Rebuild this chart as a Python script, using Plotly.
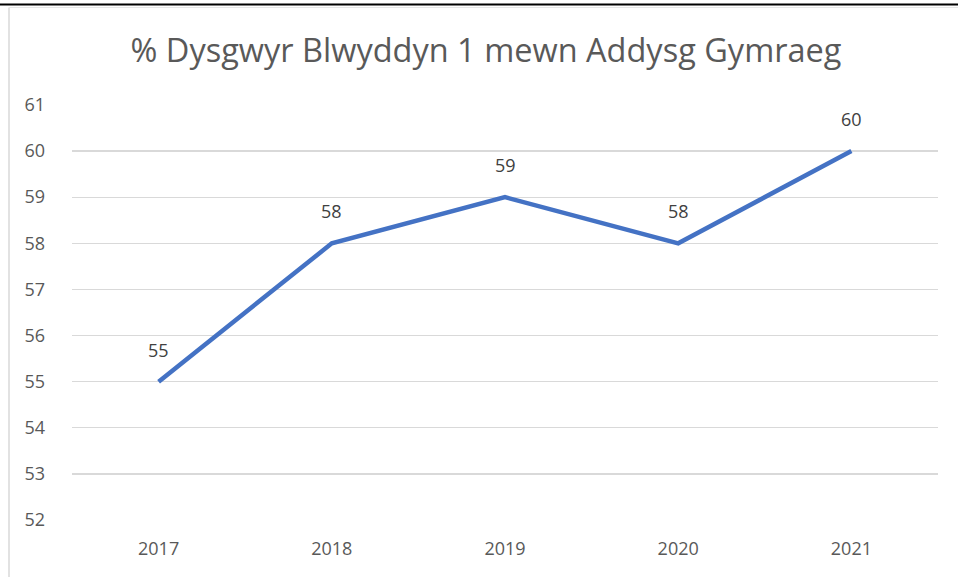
import plotly.graph_objects as go

years = ["2017", "2018", "2019", "2020", "2021"]
values = [55, 58, 59, 58, 60]
y_ticks = [52, 53, 54, 55, 56, 57, 58, 59, 60, 61]
title_text = "% Dysgwyr Blwyddyn 1 mewn Addysg Gymraeg"

W, H = 958, 577
L, R, T, B = 72, 20, 105, 57
PAD = 0.02
FONT = "Open Sans, Liberation Sans, Arial"

x_idx = list(range(len(years)))

fig = go.Figure()
fig.add_trace(go.Scatter(
    x=x_idx, y=values,
    mode="lines",
    line=dict(color="#4472C4", width=4.5),
    hoverinfo="skip",
))

annotations = [
    dict(x=xi, y=v, xref="x", yref="y", text=str(v), showarrow=False,
         yanchor="middle", xanchor="center", yshift=32,
         font=dict(family=FONT, size=18, color="#404040"))
    for xi, v in zip(x_idx, values)
]

def px_to_paper_x(px):
    return (px - L) / (W - L - R)

def px_to_paper_y(py):
    return (H - B - py) / (H - T - B)

shapes = [
    dict(type="line", xref="paper", yref="paper",
         x0=px_to_paper_x(0), x1=px_to_paper_x(958), y0=px_to_paper_y(6), y1=px_to_paper_y(6),
         line=dict(color="#000000", width=2)),
    dict(type="line", xref="paper", yref="paper",
         x0=px_to_paper_x(9), x1=px_to_paper_x(9), y0=px_to_paper_y(9), y1=px_to_paper_y(577),
         line=dict(color="#D9D9D9", width=1.5)),
    dict(type="line", xref="paper", yref="paper",
         x0=px_to_paper_x(9), x1=px_to_paper_x(958), y0=px_to_paper_y(9), y1=px_to_paper_y(9),
         line=dict(color="#E6E6E6", width=1)),
]

span = y_ticks[-1] - y_ticks[0]
ppu = (H - T - B) / span
extra = PAD * ppu

fig.update_layout(
    width=W, height=H,
    margin=dict(l=L, r=R, t=T - extra, b=B - extra, autoexpand=False),
    paper_bgcolor="white", plot_bgcolor="white",
    showlegend=False,
    title=dict(text=title_text, x=486 / W, xanchor="center", y=1 - 51 / H, yanchor="middle",
               font=dict(family=FONT, size=32.5, color="#595959")),
    xaxis=dict(
        range=[-0.5, len(years) - 0.5],
        tickmode="array", tickvals=x_idx, ticktext=years,
        showgrid=False, zeroline=False, showline=False, ticks="",
        ticklabelstandoff=15,
        tickfont=dict(family=FONT, size=18, color="#595959"),
        fixedrange=True,
    ),
    yaxis=dict(
        range=[y_ticks[0] - PAD, y_ticks[-1] + PAD],
        tickmode="array", tickvals=y_ticks,
        showgrid=True, gridcolor="#D9D9D9", gridwidth=1.3,
        zeroline=False, showline=False, ticks="",
        ticklabelstandoff=26,
        tickfont=dict(family=FONT, size=18, color="#595959"),
        fixedrange=True,
    ),
    shapes=shapes,
    annotations=annotations,
)

fig.write_html("out.html", config={"displayModeBar": False, "staticPlot": True})

with open("out.html", "r", encoding="utf-8") as f:
    html = f.read()
html = html.replace("<head>", "<head><style>html,body{margin:0;padding:0;overflow:hidden;}</style>", 1)
with open("out.html", "w", encoding="utf-8") as f:
    f.write(html)
